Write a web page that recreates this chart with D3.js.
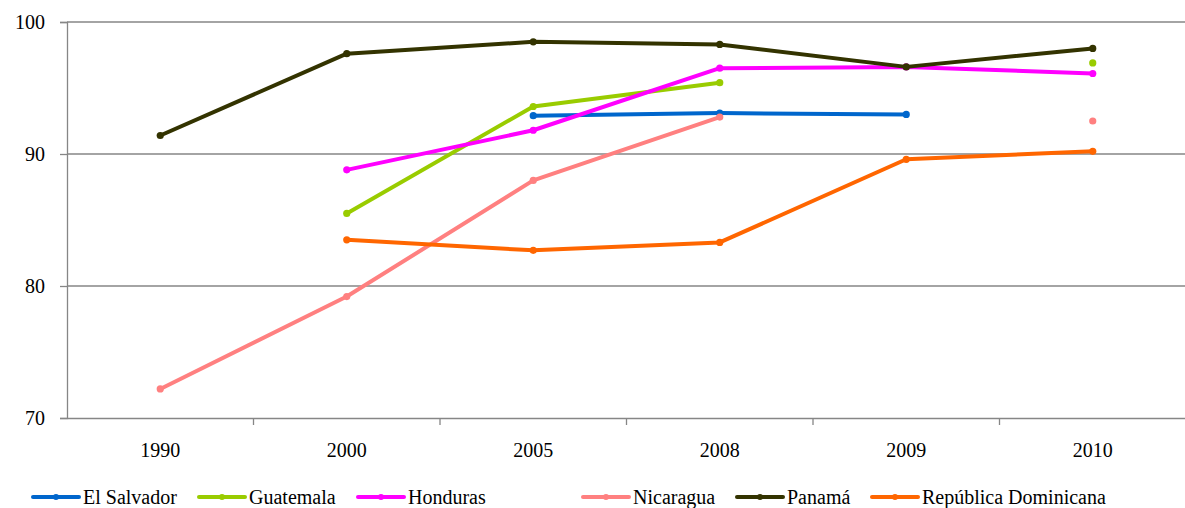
<!DOCTYPE html>
<html>
<head>
<meta charset="utf-8">
<script src="https://cdn.jsdelivr.net/npm/d3@7"></script>
</head>
<body style="margin:0">
<svg width="1185" height="508" font-family="Liberation Serif" style="font-family: 'Liberation Serif'"></svg>
<script>
const years = ["1990", "2000", "2005", "2008", "2009", "2010"];
const yTicks = [70, 80, 90, 100];

const elSalvador = [null, null, 92.9, 93.1, 93.0, null];
const guatemala = [null, 85.5, 93.6, 95.4, null, 96.9];
const honduras = [null, 88.8, 91.8, 96.5, 96.6, 96.1];
const nicaragua = [72.2, 79.2, 88.0, 92.8, null, 92.5];
const panama = [91.4, 97.6, 98.5, 98.3, 96.6, 98.0];
const repDominicana = [null, 83.5, 82.7, 83.3, 89.6, 90.2];

const series = [
  { name: "El Salvador", values: elSalvador, color: "#0066cc" },
  { name: "Guatemala", values: guatemala, color: "#99cc00" },
  { name: "Honduras", values: honduras, color: "#ff00ff" },
  { name: "Nicaragua", values: nicaragua, color: "#ff8080" },
  { name: "Panamá", values: panama, color: "#333300" },
  { name: "República Dominicana", values: repDominicana, color: "#ff6600" }
];

const svg = d3.select("svg");
const plotLeft = 67, plotRight = 1186, plotTop = 22, plotBottom = 418;
const gridColor = "#868686";

const x = d3.scaleBand().domain(years).range([plotLeft, plotRight]);
const y = d3.scaleLinear().domain([70, 100]).range([plotBottom, plotTop]);
const cx = d => x(d) + x.bandwidth() / 2;

// gridlines
svg.append("g")
  .selectAll("line")
  .data(yTicks.filter(d => d > 70))
  .join("line")
  .attr("x1", plotLeft).attr("x2", 1185)
  .attr("y1", d => y(d)).attr("y2", d => y(d))
  .attr("stroke", gridColor).attr("stroke-width", 1.3);

// y axis: lines from d3, labels drawn by hand so the font sticks
const yAxis = svg.append("g")
  .attr("transform", `translate(${plotLeft},0)`)
  .call(d3.axisLeft(y).tickValues(yTicks).tickSize(7).tickFormat(""));
yAxis.select(".domain").attr("stroke", gridColor).attr("stroke-width", 1.3);
yAxis.selectAll(".tick line").attr("stroke", gridColor).attr("stroke-width", 1.3);

svg.append("g")
  .selectAll("text")
  .data(yTicks)
  .join("text")
  .attr("x", plotLeft - 22)
  .attr("y", d => y(d) + 7)
  .attr("text-anchor", "end")
  .text(d => d);

// x axis
const xAxis = svg.append("g")
  .attr("transform", `translate(0,${plotBottom})`)
  .call(d3.axisBottom(x).tickSize(0).tickFormat(""));
xAxis.select(".domain").attr("stroke", gridColor).attr("stroke-width", 1.3);
xAxis.append("g")
  .selectAll("line")
  .data(years.slice(1))
  .join("line")
  .attr("x1", d => x(d)).attr("x2", d => x(d))
  .attr("y1", 0).attr("y2", 7)
  .attr("stroke", gridColor).attr("stroke-width", 1.3);

svg.append("g")
  .selectAll("text")
  .data(years)
  .join("text")
  .attr("x", d => cx(d))
  .attr("y", plotBottom + 39)
  .attr("text-anchor", "middle")
  .text(d => d);

// series
const line = d3.line()
  .defined(d => d.v !== null)
  .x(d => cx(d.year))
  .y(d => y(d.v));

for (const s of series) {
  const pts = s.values.map((v, i) => ({ year: years[i], v }));
  const g = svg.append("g");
  g.append("path")
    .datum(pts)
    .attr("d", line)
    .attr("fill", "none")
    .attr("stroke", s.color)
    .attr("stroke-width", 4)
    .attr("stroke-linejoin", "round")
    .attr("stroke-linecap", "round");
  g.selectAll("circle")
    .data(pts.filter(d => d.v !== null))
    .join("circle")
    .attr("cx", d => cx(d.year))
    .attr("cy", d => y(d.v))
    .attr("r", 3.6)
    .attr("fill", s.color);
}

// legend
const legendX = [33, 199, 358, 583, 737, 872];
series.forEach((s, i) => {
  const lg = svg.append("g").attr("transform", `translate(${legendX[i]},497)`);
  lg.append("line")
    .attr("x1", 0).attr("x2", 46)
    .attr("stroke", s.color).attr("stroke-width", 4)
    .attr("stroke-linecap", "round");
  lg.append("circle").attr("cx", 23).attr("r", 3).attr("fill", s.color);
  lg.append("text")
    .attr("x", 50).attr("y", 7)
    .text(s.name);
});

svg.selectAll("text")
  .attr("fill", "#000")
  .attr("font-family", "Liberation Serif")
  .attr("style", "font-family: \"Liberation Serif\"; font-size: 20px");
</script>
</body>
</html>
